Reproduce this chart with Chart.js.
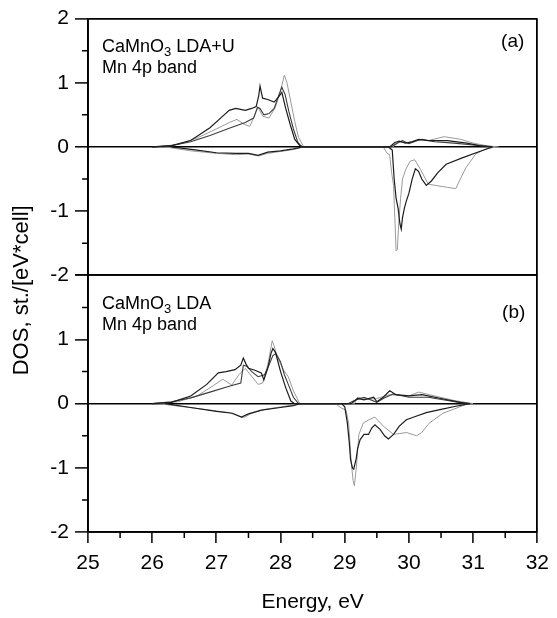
<!DOCTYPE html>
<html><head><meta charset="utf-8">
<script src="https://cdn.jsdelivr.net/npm/chart.js@4.4.1/dist/chart.umd.min.js"></script>
<style>html,body{margin:0;padding:0;background:#fff}canvas{display:block}</style>
</head><body>
<canvas id="c" width="557" height="618"></canvas>
<script>
const FONT = "'Liberation Sans', Arial, sans-serif";

// axis ranges / ticks
const xRange = [25, 32];
const yRange = [-2, 2];
const xMinor = [25.5, 26.5, 27.5, 28.5, 29.5, 30.5, 31.5];
const yMinor = [-1.5, -0.5, 0.5, 1.5];
const xTitle = 'Energy, eV';
const yTitle = 'DOS, st./[eV*cell]';

// ---- panel (a) CaMnO3 LDA+U ----
const aUpDark1E = [26.0,26.3,26.6,26.9,27.1,27.2,27.3,27.45,27.55,27.62,27.66,27.68,27.72,27.8,27.9,27.97,28.02,28.08,28.15,28.22,28.3,28.36,
  29.7,29.78,29.85,29.95,30.05,30.15,30.3,30.6,30.9,31.1,31.3];
const aUpDark1V = [0,0.02,0.1,0.3,0.48,0.57,0.6,0.57,0.6,0.63,0.8,0.95,0.76,0.74,0.7,0.78,0.85,0.6,0.35,0.12,0.02,0,
  0,0.07,0.09,0.06,0.08,0.12,0.1,0.1,0.06,0.02,0];
const aUpDark2E = [26.0,26.3,26.6,26.9,27.2,27.45,27.58,27.64,27.68,27.74,27.82,27.9,27.97,28.02,28.07,28.13,28.2,28.27,28.33,
  29.72,29.8,29.9,30.0,30.1,30.2,30.4,30.7,31.0,31.3];
const aUpDark2V = [0,0.02,0.08,0.18,0.29,0.38,0.45,0.62,0.6,0.5,0.52,0.6,0.8,0.93,0.82,0.55,0.28,0.07,0,
  0,0.05,0.1,0.05,0.09,0.12,0.08,0.06,0.03,0];
const aUpGrayE = [26.1,26.4,26.7,27.0,27.2,27.32,27.42,27.52,27.6,27.65,27.72,27.82,27.92,28.0,28.06,28.1,28.16,28.22,28.28,28.36,
  29.75,29.85,29.95,30.1,30.3,30.55,30.8,31.0,31.2,31.4];
const aUpGrayV = [0,0.04,0.14,0.28,0.38,0.43,0.36,0.32,0.5,0.62,0.48,0.45,0.62,0.88,1.12,1.0,0.7,0.4,0.15,0,
  0,0.08,0.06,0.1,0.1,0.16,0.12,0.06,0.02,0];
const aDnDarkE = [26.3,26.7,27.0,27.3,27.5,27.65,27.8,28.0,28.2,28.35,
  29.68,29.74,29.77,29.8,29.83,29.86,29.88,29.9,29.93,29.96,30.0,30.05,30.1,30.15,30.2,30.27,30.35,30.45,30.58,30.83,31.1,31.3];
const aDnDarkV = [0,-0.05,-0.09,-0.1,-0.1,-0.13,-0.08,-0.06,-0.03,0,
  0,-0.05,-0.5,-0.8,-0.95,-1.2,-1.28,-1.1,-0.95,-0.84,-0.72,-0.5,-0.34,-0.38,-0.5,-0.6,-0.53,-0.4,-0.27,-0.17,-0.07,0];
const aDnGrayE = [26.2,26.6,27.0,27.3,27.5,27.66,27.8,28.0,28.2,28.35,
  29.6,29.66,29.7,29.73,29.76,29.78,29.8,29.82,29.84,29.87,29.9,29.95,30.02,30.09,30.18,30.3,30.42,30.6,30.73,30.8,30.89,31.04,31.2,31.35];
const aDnGrayV = [0,-0.06,-0.1,-0.12,-0.11,-0.14,-0.1,-0.07,-0.04,0,
  0,-0.1,-0.12,-0.4,-0.6,-1.1,-1.62,-1.6,-1.2,-0.8,-0.5,-0.35,-0.22,-0.2,-0.35,-0.58,-0.6,-0.63,-0.65,-0.5,-0.32,-0.11,-0.03,0];

// ---- panel (b) CaMnO3 LDA ----
const bUpDark1E = [26.0,26.3,26.6,26.85,27.03,27.15,27.29,27.38,27.42,27.46,27.5,27.6,27.7,27.74,27.8,27.85,27.88,27.92,28.0,28.08,28.16,28.22,
  29.1,29.2,29.3,29.45,29.5,29.6,29.7,29.8,30.0,30.2,30.5,30.8,30.95];
const bUpDark1V = [0,0.02,0.12,0.3,0.48,0.5,0.53,0.6,0.71,0.62,0.55,0.52,0.48,0.37,0.55,0.78,0.86,0.8,0.5,0.25,0.04,0,
  0,0.08,0.06,0.1,0.03,0.1,0.2,0.14,0.12,0.14,0.08,0.02,0];
const bUpDark2E = [26.0,26.3,26.6,26.9,27.2,27.38,27.42,27.48,27.55,27.65,27.75,27.82,27.88,27.93,28.0,28.06,28.12,28.2,28.28,
  29.05,29.15,29.3,29.4,29.5,29.6,29.75,30.0,30.3,30.6,30.9];
const bUpDark2V = [0,0.03,0.09,0.18,0.27,0.32,0.6,0.58,0.5,0.42,0.45,0.6,0.75,0.78,0.65,0.45,0.3,0.1,0,
  0,0.05,0.1,0.06,0.02,0.08,0.15,0.1,0.1,0.05,0];
const bUpGrayE = [26.1,26.4,26.7,26.95,27.1,27.24,27.35,27.45,27.57,27.65,27.72,27.8,27.87,27.9,27.95,28.05,28.12,28.2,28.3,
  29.15,29.2,29.35,29.5,29.7,30.0,30.15,30.4,30.7,31.0];
const bUpGrayV = [0,0.03,0.12,0.28,0.38,0.29,0.45,0.55,0.4,0.3,0.32,0.6,0.98,0.9,0.72,0.52,0.42,0.2,0,
  0,0.1,0.07,0.08,0.14,0.12,0.18,0.12,0.05,0];
const bDnDarkE = [26.2,26.6,27.0,27.25,27.39,27.5,27.7,28.0,28.2,28.3,
  28.95,29.0,29.04,29.07,29.09,29.12,29.14,29.18,29.2,29.24,29.3,29.37,29.42,29.47,29.55,29.62,29.68,29.76,29.85,29.96,30.1,30.27,30.5,30.73,30.95];
const bDnDarkV = [0,-0.06,-0.12,-0.15,-0.21,-0.16,-0.1,-0.06,-0.03,0,
  0,-0.05,-0.3,-0.6,-0.87,-1.0,-1.02,-0.85,-0.7,-0.56,-0.48,-0.48,-0.38,-0.33,-0.4,-0.5,-0.55,-0.48,-0.35,-0.25,-0.2,-0.14,-0.09,-0.04,0];
const bDnGrayE = [26.1,26.5,26.9,27.2,27.42,27.55,27.75,28.0,28.2,28.35,
  28.85,28.95,29.02,29.06,29.08,29.1,29.13,29.15,29.18,29.22,29.29,29.38,29.47,29.6,29.76,29.96,30.12,30.2,30.32,30.53,30.87,30.95];
const bDnGrayV = [0,-0.05,-0.1,-0.14,-0.22,-0.15,-0.09,-0.05,-0.02,0,
  0,-0.07,-0.1,-0.3,-0.6,-0.9,-1.2,-1.28,-1.0,-0.48,-0.3,-0.25,-0.21,-0.35,-0.48,-0.45,-0.5,-0.45,-0.3,-0.15,-0.02,0];

const pts = (E, V) => E.map((e, i) => ({x: e, y: V[i]}));
const DARK = '#1c1c1c', DARK2 = '#3c3c3c', GRAY = '#9a9a9a';
function ds(E, V, axis, color, w) {
  return {data: pts(E, V), yAxisID: axis, xAxisID: 'x', borderColor: color, borderWidth: w,
          pointRadius: 0, tension: 0, fill: false};
}
const datasets = [
  ds(aUpDark1E, aUpDark1V, 'yA', DARK, 1.2),
  ds(aUpDark2E, aUpDark2V, 'yA', DARK2, 1.1),
  ds(aDnDarkE, aDnDarkV, 'yA', DARK, 1.2),
  ds(aUpGrayE, aUpGrayV, 'yA', GRAY, 1),
  ds(aDnGrayE, aDnGrayV, 'yA', GRAY, 1),
  ds(bUpDark1E, bUpDark1V, 'yB', DARK, 1.2),
  ds(bUpDark2E, bUpDark2V, 'yB', DARK2, 1.1),
  ds(bDnDarkE, bDnDarkV, 'yB', DARK, 1.2),
  ds(bUpGrayE, bUpGrayV, 'yB', GRAY, 1),
  ds(bDnGrayE, bDnGrayV, 'yB', GRAY, 1),
];

const tickFont = {family: FONT, size: 21};
const TRANSP = 'rgba(0,0,0,0)';
function yScale(hideTop) {
  return {
    type: 'linear', position: 'left', stack: 'panels', stackWeight: 1,
    min: yRange[0], max: yRange[1],
    ticks: {stepSize: 1, color: '#000', font: tickFont, padding: 6,
            callback: v => (hideTop && v === yRange[1]) ? '' : String(v)},
    grid: {drawOnChartArea: true, tickLength: 13, tickColor: '#000', tickWidth: 1.5,
           color: c => (c.tick && (c.tick.value === 0 || Math.abs(c.tick.value) === 2)) ? '#000' : TRANSP,
           lineWidth: c => (c.tick && c.tick.value === 0) ? 1.6 : 1.8},
    border: {display: true, color: '#000', width: 1.8},
    afterFit: s => { s.width = 88; }
  };
}

function panelText(ctx, x, y, name) {
  ctx.font = '18px ' + FONT;
  ctx.fillText('CaMnO', x, y);
  let w = ctx.measureText('CaMnO').width;
  ctx.font = '13px ' + FONT;
  ctx.fillText('3', x + w, y + 4);
  w += ctx.measureText('3').width;
  ctx.font = '18px ' + FONT;
  ctx.fillText(' ' + name, x + w, y);
}

const deco = {
  id: 'deco',
  afterDraw(chart) {
    const {ctx} = chart;
    const x = chart.scales.x, yA = chart.scales.yA, yB = chart.scales.yB;
    const top = Math.min(yA.top, yB.top), bottom = Math.max(yA.bottom, yB.bottom);
    ctx.save();
    ctx.strokeStyle = '#000'; ctx.lineWidth = 1.5;
    ctx.beginPath();
    for (const s of [yA, yB]) for (const v of yMinor) {
      const p = s.getPixelForValue(v);
      ctx.moveTo(s.right - 6, p); ctx.lineTo(s.right, p);
    }
    for (const v of xMinor) {
      const p = x.getPixelForValue(v);
      ctx.moveTo(p, x.top); ctx.lineTo(p, x.top + 6);
    }
    ctx.stroke();
    ctx.fillStyle = '#000';
    ctx.textBaseline = 'alphabetic';
    ctx.textAlign = 'left';
    panelText(ctx, x.left + 14, yA.top + 33, 'LDA+U');
    ctx.font = '18px ' + FONT;
    ctx.fillText('Mn 4p band', x.left + 14, yA.top + 54);
    panelText(ctx, x.left + 14, yB.top + 34, 'LDA');
    ctx.font = '18px ' + FONT;
    ctx.fillText('Mn 4p band', x.left + 14, yB.top + 55);
    ctx.font = '19px ' + FONT;
    ctx.textAlign = 'right';
    ctx.fillText('(a)', x.right - 13, yA.top + 28);
    ctx.fillText('(b)', x.right - 12, yB.top + 43);
    // y title
    ctx.translate(22, (top + bottom) / 2 + 15);
    ctx.rotate(-Math.PI / 2);
    ctx.textAlign = 'center';
    ctx.textBaseline = 'middle';
    ctx.font = '22px ' + FONT;
    ctx.fillText(yTitle, 0, 0);
    ctx.restore();
  }
};

new Chart(document.getElementById('c'), {
  type: 'line',
  data: {datasets},
  plugins: [deco],
  options: {
    responsive: false, animation: false,
    layout: {padding: {left: 0, right: 15, top: 18, bottom: 0}},
    plugins: {legend: {display: false}, tooltip: {enabled: false}, title: {display: false}},
    scales: {
      yB: yScale(true),
      yA: yScale(false),
      x: {
        type: 'linear', position: 'bottom', min: xRange[0], max: xRange[1],
        ticks: {stepSize: 1, color: '#000', font: tickFont, padding: 8},
        grid: {drawOnChartArea: true, tickLength: 11, tickColor: '#000', tickWidth: 1.5,
               color: c => (c.tick && (c.tick.value === xRange[0] || c.tick.value === xRange[1])) ? '#000' : TRANSP,
               lineWidth: 1.8},
        border: {display: true, color: '#000', width: 1.8},
        title: {display: true, text: xTitle, color: '#000', font: {family: FONT, size: 21}, padding: {top: 0, bottom: 3}},
        afterFit: s => { s.height = 86; }
      }
    }
  }
});
</script>
</body></html>
